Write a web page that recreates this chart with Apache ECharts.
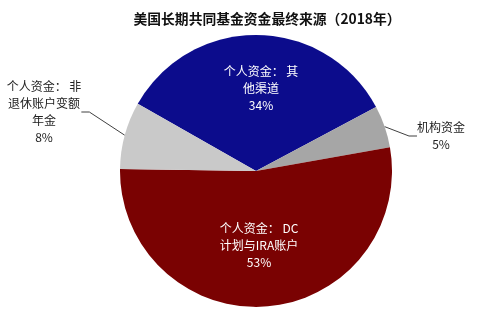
<!DOCTYPE html>
<html>
<head>
<meta charset="utf-8">
<script src="https://cdn.jsdelivr.net/npm/echarts@6/dist/echarts.min.js"></script>
<style>html,body{margin:0;padding:0;background:#fff;}#chart{width:500px;height:313px;}</style>
</head>
<body>
<div id="chart"></div>
<script>
var titleText = '美国长期共同基金资金最终来源（2018年）';
var categories = ['个人资金：其他渠道', '机构资金', '个人资金：DC计划与IRA账户', '个人资金：非退休账户变额年金'];
var labelLines = [
  ['个人资金： 其', '他渠道'],
  ['机构资金'],
  ['个人资金： DC', '计划与IRA账户'],
  ['个人资金： 非', '退休账户变额', '年金']
];
var values = [34, 5, 53, 8];
var colors = ['#0C0C8C', '#A6A6A6', '#7A0202', '#C9C9C9'];
var labelPos = [[261, 88], [441, 136], [259, 245], [44, 112]];
var inside = [true, false, true, false];

var chart = echarts.init(document.getElementById('chart'));
var data = categories.map(function (name, i) {
  return {
    name: name,
    value: values[i],
    itemStyle: { color: colors[i] },
    label: {
      color: inside[i] ? '#ffffff' : '#222222',
      position: inside[i] ? 'inside' : 'outside'
    },
    labelLine: { show: !inside[i] }
  };
});
chart.setOption({
  animation: false,
  title: {
    text: titleText,
    left: 262,
    textAlign: 'center',
    top: 7,
    textStyle: { fontFamily: 'Noto Sans CJK SC', fontSize: 13.8, fontWeight: 'bold', color: '#111' }
  },
  series: [{
    type: 'pie',
    center: ['51.2%', '54.6%'],
    radius: 136,
    startAngle: 150.4,
    clockwise: true,
    data: data,
    label: {
      show: true,
      fontFamily: 'Noto Sans CJK SC',
      fontSize: 12,
      lineHeight: 17,
      formatter: function (p) {
        var ls = labelLines[p.dataIndex].concat([p.value + '%']);
        return ls.map(function (s) { return '{c|' + s + '}'; }).join('\n');
      },
      rich: { c: { align: 'center', fontFamily: 'Noto Sans CJK SC', fontSize: 12, lineHeight: 17 } }
    },
    labelLine: { show: true, length: 10, length2: 8, lineStyle: { color: '#404040', width: 1 } },
    labelLayout: function (p) {
      var pos = labelPos[p.dataIndex];
      return { x: pos[0], y: pos[1], align: 'center', verticalAlign: 'middle' };
    }
  }]
});
</script>
</body>
</html>
